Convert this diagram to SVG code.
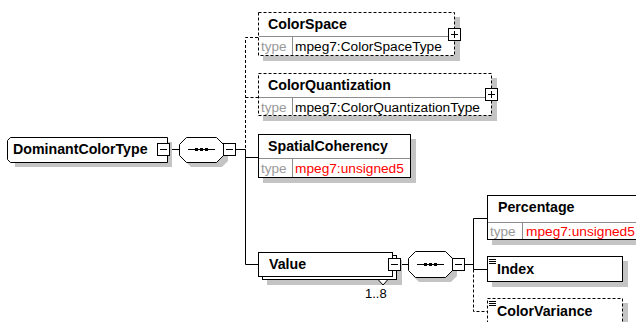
<svg xmlns="http://www.w3.org/2000/svg" width="636" height="322" viewBox="0 0 636 322">
<style>
.bg{fill:#fff}
.box{fill:#fff;stroke:#000;stroke-width:1}
.dbox{fill:#fff;stroke:#000;stroke-width:1;stroke-dasharray:3,2}
.sh{fill:#c4c4c4}
.ln{stroke:#000;stroke-width:1;fill:none}
.dln{stroke:#000;stroke-width:1;fill:none;stroke-dasharray:3,2}
.cell{stroke:#8c8c8c;stroke-width:1;fill:none}
.name{font-family:"Liberation Sans",Arial,sans-serif;font-weight:bold;font-size:14.2px;fill:#000}
.tl{font-family:"Liberation Sans",Arial,sans-serif;font-size:13.5px;fill:#999}
.tv{font-family:"Liberation Sans",Arial,sans-serif;font-size:13.7px;fill:#000}
.tr{font-family:"Liberation Sans",Arial,sans-serif;font-size:13.7px;fill:#f00}
.occ{font-family:"Liberation Sans",Arial,sans-serif;font-size:13px;fill:#000}
</style>
<rect class="bg" x="0" y="0" width="636" height="322"/>

<g id="connectors">
  <line class="ln" x1="170" y1="149.5" x2="179" y2="149.5"/>
  <line class="ln" x1="236" y1="149.5" x2="245.5" y2="149.5"/>
  <path class="dln" d="M258,37.5 H245.5 V149.5"/>
  <line class="dln" x1="245.5" y1="97.5" x2="258" y2="97.5"/>
  <path class="ln" d="M245.5,149.5 V264.5 H258"/>
  <line class="ln" x1="245.5" y1="157.5" x2="258" y2="157.5"/>
  <line class="ln" x1="400" y1="264.5" x2="408" y2="264.5"/>
  <line class="ln" x1="465" y1="264.5" x2="473.5" y2="264.5"/>
  <path class="ln" d="M487,218.5 H473.5 V269.5 H487"/>
  <path class="dln" d="M473.5,269.5 V311.5 H487"/>
</g>

<g id="DominantColorType">
  <path class="sh" d="M15,142 H172 V167 H15 Z"/>
  <path class="box" d="M10.5,137.5 H167.5 V162.5 H10.5 L7.5,159.5 V140.5 Z"/>
  <text class="name" x="13" y="154">DominantColorType</text>
  <rect class="box" x="157.5" y="143.5" width="12" height="12"/>
  <line class="ln" x1="160" y1="149.5" x2="167" y2="149.5"/>
</g>

<g id="seq1">
  <path class="sh" d="M191,142 H222 L228,148 V161 L222,167 H191 L185,161 V148 Z"/>
  <path class="box" d="M186.5,137.5 H216.5 L223.5,144.5 V155.5 L216.5,162.5 H186.5 L179.5,155.5 V144.5 Z"/>
  <line class="ln" x1="188" y1="149.5" x2="215" y2="149.5"/>
  <rect x="195" y="148" width="3" height="3" fill="#000"/>
  <rect x="200" y="148" width="3" height="3" fill="#000"/>
  <rect x="205" y="148" width="3" height="3" fill="#000"/>
  <rect class="box" x="223.5" y="143.5" width="12" height="12"/>
  <line class="ln" x1="226" y1="149.5" x2="233" y2="149.5"/>
</g>

<g id="ColorSpace">
  <rect class="sh" x="263" y="17" width="197" height="44"/>
  <rect class="dbox" x="258.5" y="12.5" width="196" height="43"/>
  <line class="cell" x1="259" y1="36.5" x2="454" y2="36.5"/>
  <line class="cell" x1="292.5" y1="37" x2="292.5" y2="55"/>
  <text class="name" x="268" y="29">ColorSpace</text>
  <text class="tl" x="261" y="51">type</text>
  <text class="tv" x="295" y="51">mpeg7:ColorSpaceType</text>
  <rect class="box" x="448.5" y="28.5" width="12" height="12"/>
  <path class="ln" d="M451,34.5 H458 M454.5,31 V38"/>
</g>

<g id="ColorQuantization">
  <rect class="sh" x="263" y="78" width="234" height="43"/>
  <rect class="dbox" x="258.5" y="73.5" width="233" height="42"/>
  <line class="cell" x1="259" y1="97.5" x2="491" y2="97.5"/>
  <line class="cell" x1="292.5" y1="98" x2="292.5" y2="115"/>
  <text class="name" x="268" y="90">ColorQuantization</text>
  <text class="tl" x="261" y="112">type</text>
  <text class="tv" x="295" y="112">mpeg7:ColorQuantizationType</text>
  <rect class="box" x="485.5" y="88.5" width="12" height="12"/>
  <path class="ln" d="M488,94.5 H495 M491.5,91 V98"/>
</g>

<g id="SpatialCoherency">
  <rect class="sh" x="263" y="139" width="153" height="44"/>
  <rect class="box" x="258.5" y="134.5" width="152" height="43"/>
  <line class="cell" x1="259" y1="158.5" x2="410" y2="158.5"/>
  <line class="cell" x1="292.5" y1="159" x2="292.5" y2="177"/>
  <text class="name" x="268" y="151">SpatialCoherency</text>
  <text class="tl" x="261" y="173">type</text>
  <text class="tr" x="295" y="173">mpeg7:unsigned5</text>
</g>

<g id="Value">
  <rect class="sh" x="267" y="260" width="135" height="25"/>
  <rect class="box" x="262.5" y="255.5" width="134" height="24"/>
  <rect class="box" x="258.5" y="252.5" width="134" height="24"/>
  <text class="name" x="269" y="269">Value</text>
  <rect class="box" x="388.5" y="258.5" width="12" height="12"/>
  <line class="ln" x1="391" y1="264.5" x2="398" y2="264.5"/>
  <path class="box" d="M378.5,280 L383,285 L387.5,280"/>
  <text class="occ" x="365" y="298">1..8</text>
</g>

<g id="seq2">
  <path class="sh" d="M419,256 H451 L457,262 V276 L451,282 H419 L413,276 V262 Z"/>
  <path class="box" d="M415.5,251.5 H445.5 L452.5,258.5 V270.5 L445.5,277.5 H415.5 L408.5,270.5 V258.5 Z"/>
  <line class="ln" x1="417" y1="264.5" x2="444" y2="264.5"/>
  <rect x="424" y="263" width="3" height="3" fill="#000"/>
  <rect x="429" y="263" width="3" height="3" fill="#000"/>
  <rect x="434" y="263" width="3" height="3" fill="#000"/>
  <rect class="box" x="452.5" y="258.5" width="12" height="12"/>
  <line class="ln" x1="455" y1="264.5" x2="462" y2="264.5"/>
</g>

<g id="Percentage">
  <rect class="sh" x="492" y="200" width="160" height="45"/>
  <rect class="box" x="487.5" y="195.5" width="160" height="44"/>
  <line class="cell" x1="488" y1="222.5" x2="647" y2="222.5"/>
  <line class="cell" x1="522.5" y1="223" x2="522.5" y2="239"/>
  <text class="name" x="498" y="212">Percentage</text>
  <text class="tl" x="490" y="236">type</text>
  <text class="tr" x="526" y="236">mpeg7:unsigned5</text>
</g>

<g id="Index">
  <rect class="sh" x="492" y="261" width="136" height="26"/>
  <rect class="box" x="487.5" y="256.5" width="135" height="25"/>
  <path class="ln" d="M489,259.5 H496 M489,261.5 H496 M489,263.5 H496"/>
  <text class="name" x="497" y="274">Index</text>
</g>

<g id="ColorVariance">
  <rect class="sh" x="492" y="303" width="136" height="30"/>
  <rect class="dbox" x="487.5" y="298.5" width="135" height="30"/>
  <path class="ln" d="M489,301.5 H496 M489,303.5 H496 M489,305.5 H496"/>
  <text class="name" x="497" y="316">ColorVariance</text>
</g>
</svg>
